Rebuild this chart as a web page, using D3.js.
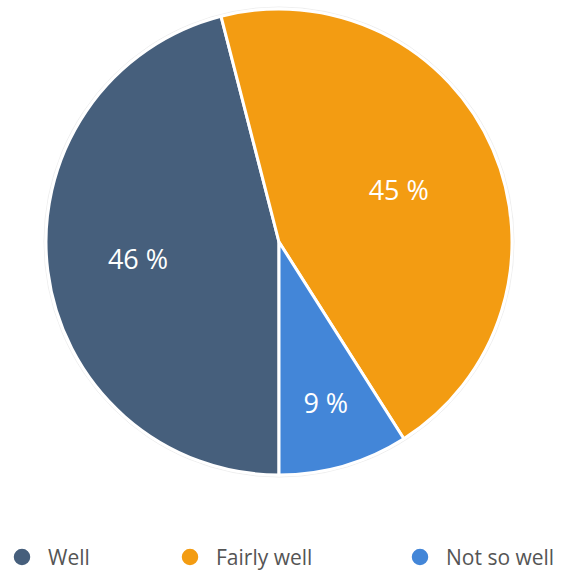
<!DOCTYPE html>
<html><head><meta charset="utf-8">
<script src="https://cdn.jsdelivr.net/npm/d3@7"></script>
<style>
html,body{margin:0;padding:0;background:#fff;}
svg{display:block;font-family:"Open Sans",Lato,sans-serif;}
</style></head>
<body>
<svg id="chart" width="561" height="571"></svg>
<script>
const categories = ["Well", "Fairly well", "Not so well"];
const values = [46, 45, 9];
const colors = ["#465f7c", "#f39c12", "#4386d8"];
const labelRadius = [0.61, 0.56, 0.72];

const svg = d3.select("#chart");
const cx = 279, cy = 242, R = 233;

const pie = d3.pie().sort(null).value(d => d.v)
  .startAngle(Math.PI).endAngle(3 * Math.PI);
const data = categories.map((c, i) => ({c, v: values[i], col: colors[i], lr: labelRadius[i]}));
const arcs = pie(data);

const g = svg.append("g").attr("transform", `translate(${cx},${cy})`);
g.append("circle").attr("r", R + 2).attr("fill", "none").attr("stroke", "#eee").attr("stroke-width", 1);

const arc = d3.arc().innerRadius(0).outerRadius(R);
g.selectAll("path.slice").data(arcs).join("path")
  .attr("class", "slice")
  .attr("d", arc)
  .attr("fill", d => d.data.col)
  .attr("stroke", "#fff")
  .attr("stroke-width", 3)
  .attr("stroke-linejoin", "round");

g.selectAll("text.lbl").data(arcs).join("text")
  .attr("class", "lbl")
  .attr("x", d => { const a = (d.startAngle + d.endAngle) / 2; return Math.sin(a) * R * d.data.lr; })
  .attr("y", d => { const a = (d.startAngle + d.endAngle) / 2; return -Math.cos(a) * R * d.data.lr - 1; })
  .attr("text-anchor", "middle")
  .attr("dominant-baseline", "central")
  .attr("fill", "#fff")
  .attr("font-size", 27)
  .text(d => d.data.v + " %");

const lx = [22, 190, 420];
const leg = svg.selectAll("g.leg").data(data).join("g").attr("class", "leg")
  .attr("transform", (d, i) => `translate(${lx[i]},557)`);
leg.append("circle").attr("r", 9).attr("fill", d => d.col).attr("stroke", "#fff").attr("stroke-width", 1.5);
leg.append("text").attr("x", 26).attr("y", 0).attr("dominant-baseline", "central")
  .attr("fill", "#555").attr("font-size", 21).text(d => d.c);
</script>
</body></html>
